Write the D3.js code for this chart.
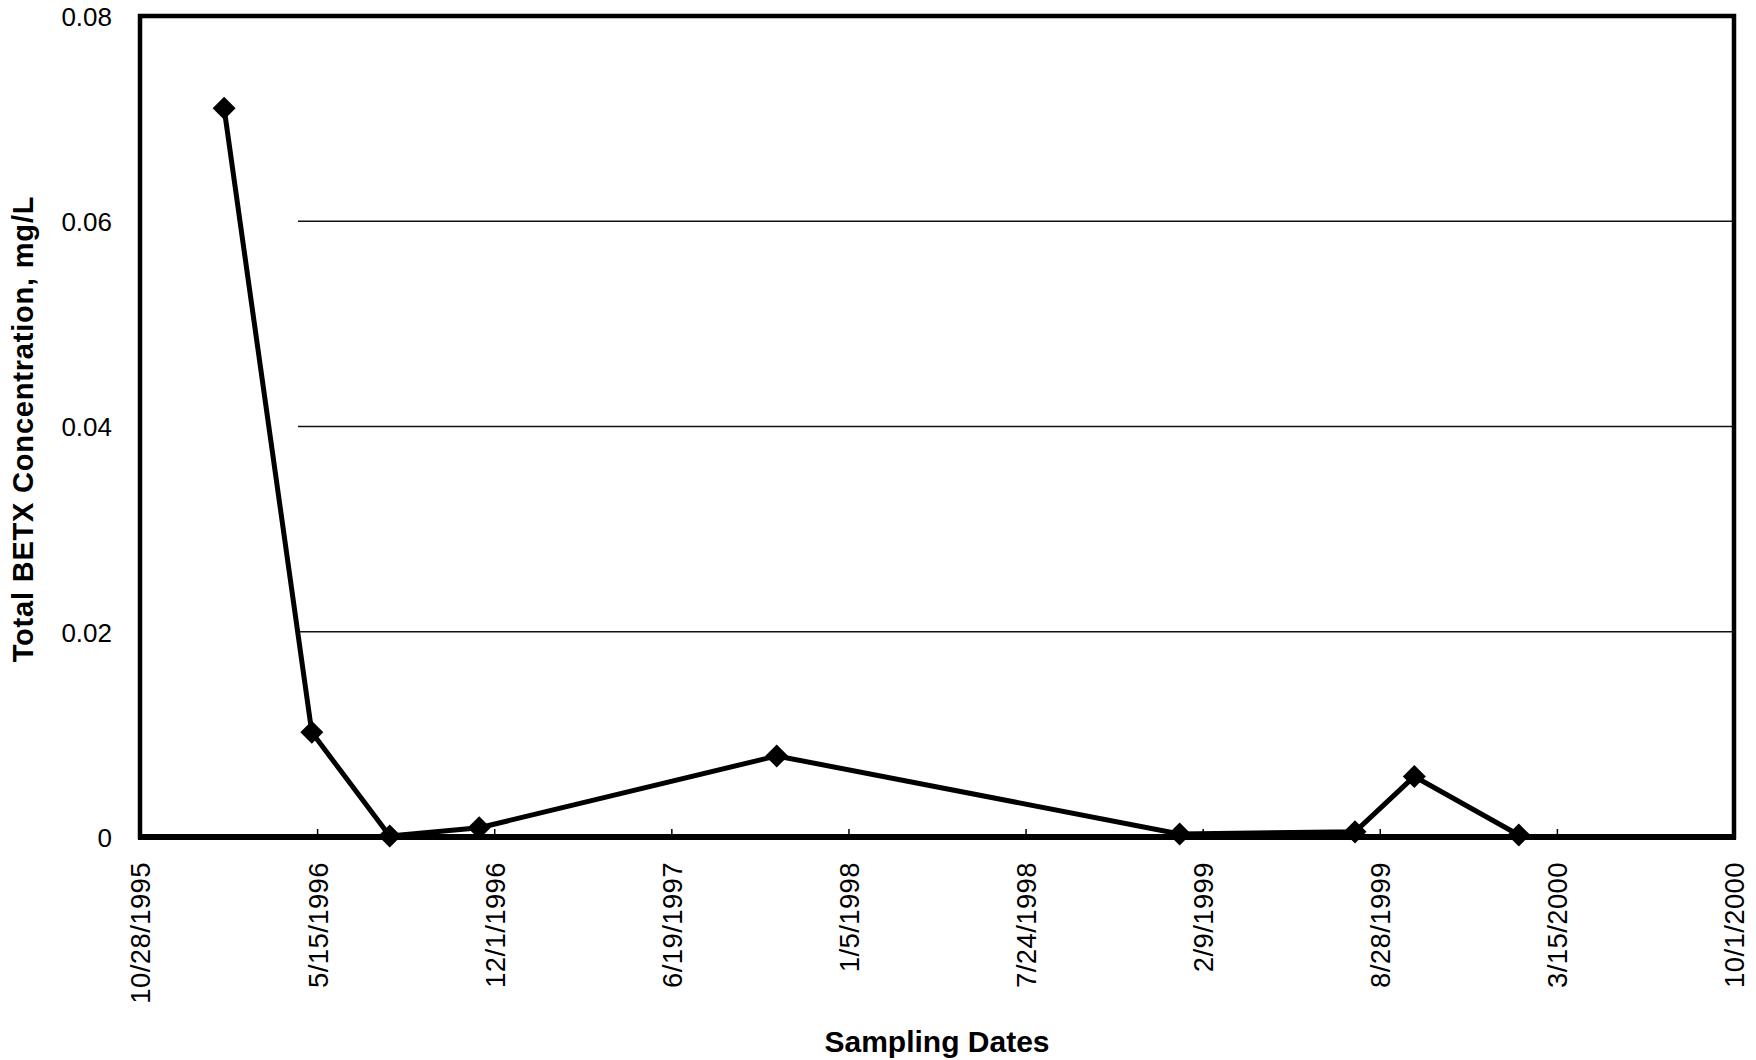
<!DOCTYPE html>
<html>
<head>
<meta charset="utf-8">
<script src="https://cdn.jsdelivr.net/npm/d3@7"></script>
<style>
  html, body { margin: 0; padding: 0; background: #fff; }
  svg { display: block; }
  text { font-family: "Liberation Sans", Arial, Helvetica, sans-serif; fill: #000; }
</style>
</head>
<body>
<svg id="chart" width="1756" height="1060"></svg>
<script>
// ---- data ----
const sampleDates = ["1996-01-31", "1996-05-09", "1996-08-05", "1996-11-14", "1997-10-16",
                     "1999-01-14", "1999-07-31", "1999-10-06", "2000-02-01"];
const betxValues = [0.0710, 0.0102, 0.0001, 0.0009, 0.0079, 0.0003, 0.0005, 0.0059, 0.0002];
const xTickLabels = ["10/28/1995", "5/15/1996", "12/1/1996", "6/19/1997", "1/5/1998",
                     "7/24/1998", "2/9/1999", "8/28/1999", "3/15/2000", "10/1/2000"];
const yTickValues = [0, 0.02, 0.04, 0.06, 0.08];
const yGridValues = [0.02, 0.04, 0.06];
const xDomain = ["1995-10-28", "2000-10-01"];
const yDomain = [0, 0.08];
const xTitle = "Sampling Dates";
const yTitle = "Total BETX Concentration, mg/L";

// ---- layout ----
const W = 1756, H = 1060;
const plot = { left: 140, right: 1734, top: 16, bottom: 837 };
const parse = d3.utcParse("%Y-%m-%d");
const parseTick = d3.utcParse("%m/%d/%Y");

const svg = d3.select("#chart");
const x = d3.scaleUtc().domain(xDomain.map(parse)).range([plot.left, plot.right]);
const y = d3.scaleLinear().domain(yDomain).range([plot.bottom, plot.top]);

// gridlines (faded at left in the original)
const gridStart = 298;
svg.append("g").selectAll("line").data(yGridValues).join("line")
  .attr("x1", gridStart).attr("x2", plot.right)
  .attr("y1", d => y(d)).attr("y2", d => y(d))
  .attr("stroke", "#111").attr("stroke-width", 1.6);

// x axis ticks (inside, upward) and labels
const tickDates = xTickLabels.map(parseTick);
const xAxis = d3.axisBottom(x)
  .tickValues(tickDates)
  .tickSize(-8)
  .tickFormat((d, i) => xTickLabels[i]);
const gx = svg.append("g").attr("transform", `translate(0,${plot.bottom})`).call(xAxis);
gx.select(".domain").remove();
gx.selectAll(".tick line").attr("stroke", "#000").attr("stroke-width", 1.5);
gx.selectAll(".tick text")
  .attr("transform", "rotate(-90)")
  .attr("x", -25).attr("y", 0).attr("dy", "0.36em")
  .attr("text-anchor", "end")
  .style("font-size", "27.5px")
  .style("letter-spacing", "0.4px");

// y axis labels
const yAxis = d3.axisLeft(y)
  .tickValues(yTickValues)
  .tickSize(0)
  .tickPadding(28)
  .tickFormat(d => d === 0 ? "0" : d3.format(".2f")(d));
const gy = svg.append("g").attr("transform", `translate(${plot.left},0)`).call(yAxis);
gy.select(".domain").remove();
gy.selectAll(".tick text").style("font-size", "26px").attr("dy", "0.36em");

// plot frame
svg.append("rect")
  .attr("x", plot.left).attr("y", plot.top)
  .attr("width", plot.right - plot.left).attr("height", plot.bottom - plot.top)
  .attr("fill", "none").attr("stroke", "#000").attr("stroke-width", 4.5);
// heavier bottom axis line
svg.append("line")
  .attr("x1", plot.left - 2).attr("x2", plot.right + 2)
  .attr("y1", plot.bottom).attr("y2", plot.bottom)
  .attr("stroke", "#000").attr("stroke-width", 6);

// series
const pts = sampleDates.map((d, i) => ({ date: parse(d), v: betxValues[i] }));
svg.append("path").datum(pts)
  .attr("fill", "none").attr("stroke", "#000").attr("stroke-width", 5)
  .attr("stroke-linejoin", "round")
  .attr("d", d3.line().x(d => x(d.date)).y(d => y(d.v)));

const diamond = d3.symbol().type(d3.symbolSquare).size(265);
svg.append("g").selectAll("path").data(pts).join("path")
  .attr("d", diamond)
  .attr("transform", d => `translate(${x(d.date)},${y(d.v)}) rotate(45)`)
  .attr("fill", "#000");

// titles
svg.append("text")
  .attr("x", (plot.left + plot.right) / 2).attr("y", 1052)
  .attr("text-anchor", "middle")
  .style("font-size", "30px").style("font-weight", "bold")
  .text(xTitle);

svg.append("text")
  .attr("transform", `translate(33,429) rotate(-90)`)
  .attr("text-anchor", "middle")
  .style("font-size", "29px").style("font-weight", "bold")
  .style("letter-spacing", "0.8px")
  .text(yTitle);
</script>
</body>
</html>
